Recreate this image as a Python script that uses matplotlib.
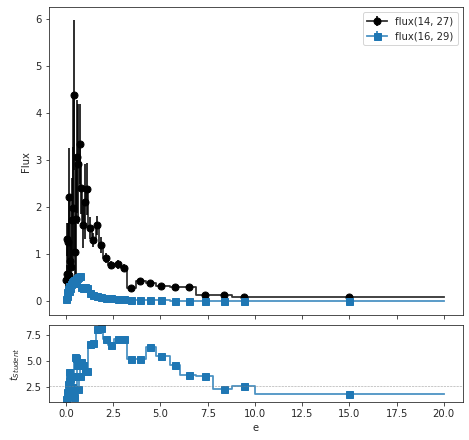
import numpy as np
import matplotlib
matplotlib.use("Agg")
import matplotlib.pyplot as plt

plt.rcParams['axes.edgecolor'] = '.15'
plt.rcParams['xtick.color'] = '.15'
plt.rcParams['ytick.color'] = '.15'
plt.rcParams['text.color'] = '.15'
plt.rcParams['axes.labelcolor'] = '.15'

# bin edges and energy at which each bin is marked
edges = [0.0, 0.02, 0.05, 0.08, 0.12, 0.16, 0.20, 0.24, 0.28, 0.34, 0.38,
         0.42, 0.48, 0.54, 0.60, 0.68, 0.76, 0.86, 0.95, 1.08, 1.18,
         1.36, 1.57, 1.76, 1.98, 2.21, 2.56, 2.90, 3.22, 3.70, 4.21,
         4.77, 5.48, 6.05, 6.88, 7.78, 8.79, 10.0, 20.0]
e = [0.01, 0.04, 0.07, 0.10, 0.14, 0.18, 0.22, 0.26, 0.31, 0.36, 0.40,
     0.45, 0.51, 0.57, 0.64, 0.72, 0.81, 0.90, 1.01, 1.13,
     1.27, 1.45, 1.66, 1.87, 2.12, 2.38, 2.73, 3.09, 3.45, 3.94,
     4.47, 5.05, 5.75, 6.50, 7.34, 8.34, 9.41, 15.0]

flux1 = [0.45, 0.57, 1.31, 1.26, 0.55, 2.21, 0.84, 0.73, 1.72, 1.97, 4.38,
         1.04, 1.74, 3.07, 2.91, 3.34, 2.40, 1.62, 2.11, 2.38,
         1.55, 1.30, 1.61, 1.19, 0.92, 0.77, 0.78, 0.71, 0.28, 0.43,
         0.38, 0.32, 0.30, 0.30, 0.13, 0.13, 0.09, 0.09]
err1 = [0.15, 0.20, 0.35, 0.40, 0.30, 1.05, 0.45, 0.50, 0.90, 1.30, 1.60,
        0.70, 1.20, 1.20, 1.28, 0.85, 0.55, 0.50, 0.80, 0.55,
        0.23, 0.15, 0.20, 0.17, 0.11, 0.09, 0.10, 0.08, 0.04, 0.05,
        0.04, 0.035, 0.03, 0.03, 0.02, 0.02, 0.015, 0.01]

flux2 = [0.05, 0.10, 0.18, 0.25, 0.22, 0.32, 0.28, 0.36, 0.40, 0.42, 0.44,
         0.38, 0.46, 0.48, 0.50, 0.53, 0.30, 0.28, 0.29, 0.27,
         0.17, 0.13, 0.10, 0.09, 0.07, 0.06, 0.03, 0.03, 0.02, 0.015,
         0.01, 0.01, 0.005, 0.005, 0.003, 0.002, 0.001, 0.001]
err2 = [0.03, 0.04, 0.05, 0.05, 0.05, 0.06, 0.05, 0.06, 0.06, 0.06, 0.06,
        0.05, 0.06, 0.06, 0.06, 0.06, 0.04, 0.04, 0.04, 0.04,
        0.02, 0.02, 0.015, 0.012, 0.01, 0.01, 0.008, 0.006, 0.005, 0.004,
        0.003, 0.003, 0.002, 0.002, 0.001, 0.001, 0.001, 0.001]

t_student = [1.39, 1.77, 2.02, 2.81, 3.20, 3.93, 3.36, 2.25, 2.50, 3.60, 1.50,
             5.36, 5.33, 4.62, 2.34, 3.52, 4.88, 4.57, 4.05, 4.00,
             6.60, 6.75, 8.02, 8.15, 7.13, 6.50, 7.13, 7.13, 5.23, 5.23,
             6.38, 5.45, 4.57, 3.64, 3.52, 2.34, 2.57, 1.83]
t_crit = 2.576

labels = ['flux(14, 27)', 'flux(16, 29)']


def stairs(ax, vals, color):
    v = np.append(vals, vals[-1])
    line, = ax.step(edges, v, where='post', color=color, lw=1.8, alpha=0.8)
    return line


fig = plt.figure(figsize=(469 / 72, 440 / 72), dpi=72)
ax = fig.add_axes([0.1038, 0.2841, 0.8827, 0.6993])
ax2 = fig.add_axes([0.1038, 0.0857, 0.8827, 0.175], sharex=ax)

l1 = stairs(ax, flux1, 'k')
c1 = ax.errorbar(e, flux1, yerr=err1, fmt='o', color='k', ms=7,
                 elinewidth=2, ecolor=(0, 0, 0, 0.8))
l2 = stairs(ax, flux2, 'C0')
c2 = ax.errorbar(e, flux2, yerr=err2, fmt='s', color='C0', ms=7,
                 elinewidth=2, ecolor=(0.12, 0.47, 0.71, 0.8))
ax.legend([(l1, c1), (l2, c2)], labels, loc='upper right')
ax.set_ylabel('Flux')
ax.set_ylim(-0.30, 6.25)
ax.tick_params(labelbottom=False)

stairs(ax2, t_student, 'C0')
ax2.plot(e, t_student, 's', color='C0', ms=7)
ax2.axhline(t_crit, color='grey', ls='--', lw=0.6, alpha=0.7)
ax2.set_ylim(1.04, 8.42)
ax2.set_yticks([2.5, 5.0, 7.5])
ax2.set_xlim(-0.92, 21.0)
ax2.set_ylabel('$t_{Student}$')
ax2.set_xlabel('e')

fig.savefig('out.png', dpi=72)
